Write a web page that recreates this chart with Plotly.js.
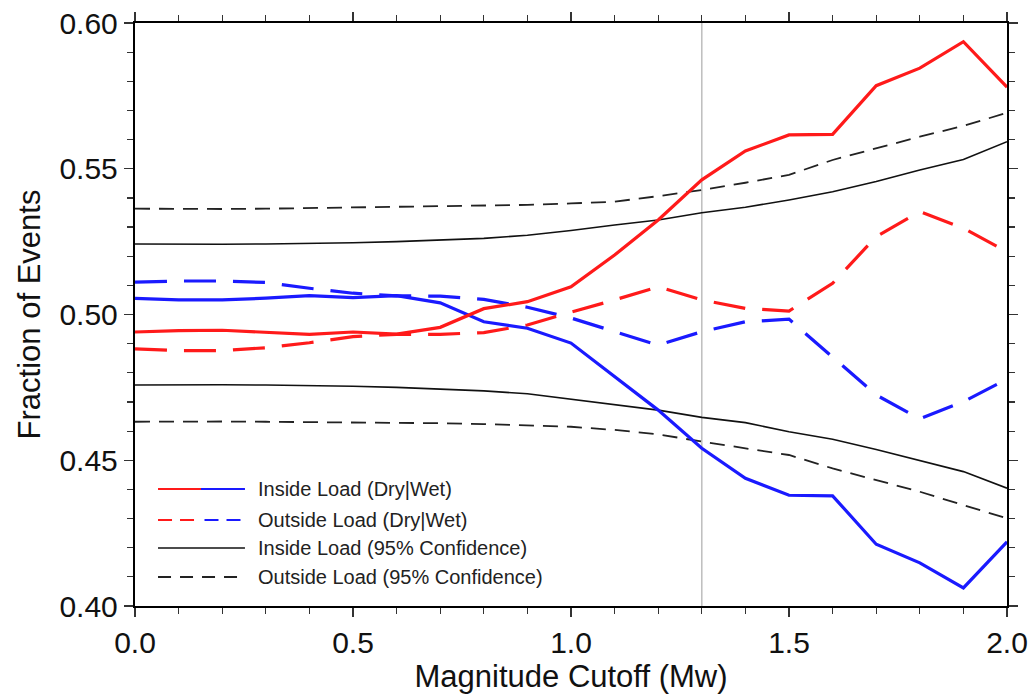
<!DOCTYPE html>
<html>
<head>
<meta charset="utf-8">
<script src="https://cdn.plot.ly/plotly-3.0.1.min.js"></script>
<style>
  html, body { margin: 0; padding: 0; background: #fff; }
  #chart { width: 1034px; height: 696px; }
</style>
</head>
<body>
<div id="chart"></div>
<script>
// Magnitude cutoffs (Mw)
const magnitude = [0.0, 0.1, 0.2, 0.3, 0.4, 0.5, 0.6, 0.7, 0.8, 0.9, 1.0,
                   1.1, 1.2, 1.3, 1.4, 1.5, 1.6, 1.7, 1.8, 1.9, 2.0];

// Fraction of events inside the load region, dry and wet seasons
const insideDry = [0.4940, 0.4945, 0.4946, 0.4940, 0.4932, 0.4940, 0.4933, 0.4956, 0.5020, 0.5044, 0.5095,
                   0.5204, 0.5324, 0.5462, 0.5561, 0.5616, 0.5618, 0.5785, 0.5845, 0.5936, 0.5780];
const insideWet = [0.5055, 0.5050, 0.5050, 0.5056, 0.5065, 0.5058, 0.5065, 0.5040, 0.4975, 0.4953, 0.4902,
                   0.4787, 0.4672, 0.4541, 0.4438, 0.4380, 0.4378, 0.4212, 0.4148, 0.4062, 0.4220];

// Fraction of events outside the load region, dry and wet seasons
const outsideDry = [0.4882, 0.4876, 0.4876, 0.4886, 0.4903, 0.4924, 0.4932, 0.4932, 0.4938, 0.4964, 0.5008,
                    0.5050, 0.5095, 0.5050, 0.5021, 0.5012, 0.5107, 0.5267, 0.5353, 0.5296, 0.5215];
const outsideWet = [0.5111, 0.5115, 0.5115, 0.5110, 0.5090, 0.5073, 0.5064, 0.5063, 0.5052, 0.5025, 0.4988,
                    0.4941, 0.4895, 0.4941, 0.4975, 0.4984, 0.4855, 0.4724, 0.4642, 0.4701, 0.4778];

// 95% confidence bounds
const insideUpper = [0.5242, 0.5241, 0.5241, 0.5242, 0.5243, 0.5246, 0.5250, 0.5255, 0.5261, 0.5272, 0.5288,
                     0.5307, 0.5324, 0.5349, 0.5368, 0.5393, 0.5421, 0.5456, 0.5496, 0.5532, 0.5593];
const insideLower = [0.4758, 0.4759, 0.4759, 0.4758, 0.4757, 0.4754, 0.4750, 0.4745, 0.4738, 0.4728, 0.4710,
                     0.4690, 0.4672, 0.4647, 0.4629, 0.4598, 0.4572, 0.4537, 0.4498, 0.4461, 0.4404];
const outsideUpper = [0.5363, 0.5362, 0.5362, 0.5363, 0.5365, 0.5366, 0.5368, 0.5370, 0.5372, 0.5376, 0.5381,
                      0.5387, 0.5406, 0.5427, 0.5452, 0.5479, 0.5530, 0.5570, 0.5610, 0.5647, 0.5692];
const outsideLower = [0.4632, 0.4633, 0.4633, 0.4632, 0.4631, 0.4630, 0.4629, 0.4627, 0.4624, 0.4620, 0.4615,
                      0.4604, 0.4589, 0.4564, 0.4541, 0.4518, 0.4472, 0.4432, 0.4392, 0.4346, 0.4301];

// Reference cutoff marked with a vertical line
const cutoffLine = 1.3;

// Legend rows
const legendLabels = ['Inside Load (Dry|Wet)', 'Outside Load (Dry|Wet)',
                      'Inside Load (95% Confidence)', 'Outside Load (95% Confidence)'];

const RED = '#ff1a1a';
const BLUE = '#1a1aff';
const COLOR_DASH = '32px,17px';
const BLACK_DASH = '15px,9px';

function curve(y, color, width, dash) {
  return {
    x: magnitude, y: y, type: 'scatter', mode: 'lines',
    line: { color: color, width: width, dash: dash },
    showlegend: false, hoverinfo: 'skip'
  };
}

const traces = [
  curve(insideUpper, '#111', 1.6, 'solid'),
  curve(insideLower, '#111', 1.6, 'solid'),
  curve(outsideUpper, '#222', 1.8, BLACK_DASH),
  curve(outsideLower, '#222', 1.8, BLACK_DASH),
  curve(outsideWet, BLUE, 3.2, COLOR_DASH),
  curve(outsideDry, RED, 3.2, COLOR_DASH),
  curve(insideWet, BLUE, 3.2, 'solid'),
  curve(insideDry, RED, 3.2, 'solid')
];

// Hand-built legend: split red|blue sample lines with labels
const legendRowsY = [0.2007, 0.1475, 0.0995, 0.0497];
const lx0 = 0.0264, lxMid = 0.0757, lx1 = 0.1261, textX = 0.139;
const shapes = [
  { type: 'line', xref: 'x', yref: 'paper', x0: cutoffLine, x1: cutoffLine, y0: 0, y1: 1,
    line: { color: '#bdbdbd', width: 1.5 }, layer: 'below' }
];
function seg(x0, x1, y, color, width, dash) {
  shapes.push({ type: 'line', xref: 'paper', yref: 'paper', x0: x0, x1: x1, y0: y, y1: y,
                line: { color: color, width: width, dash: dash } });
}
seg(lx0, lxMid, legendRowsY[0], RED, 2, 'solid');
seg(lxMid, lx1, legendRowsY[0], BLUE, 2, 'solid');
seg(lx0, lxMid, legendRowsY[1], RED, 2, '14px,8px');
seg(lxMid + 0.004, lx1, legendRowsY[1], BLUE, 2, '14px,8px');
seg(lx0, lx1, legendRowsY[2], '#111', 1.6, 'solid');
seg(lx0, lx1, legendRowsY[3], '#222', 1.8, '13px,9px');

const annotations = legendLabels.map((t, i) => ({
  xref: 'paper', yref: 'paper', x: textX, y: legendRowsY[i],
  xanchor: 'left', yanchor: 'middle', showarrow: false, text: t,
  font: { family: 'Liberation Sans, Arial, sans-serif', size: 20, color: '#222' }
}));

const axisCommon = {
  showgrid: false, zeroline: false, showline: true, linecolor: '#000', linewidth: 2.2,
  mirror: 'allticks', ticks: 'outside', ticklen: 9, tickwidth: 1.4, tickcolor: '#333',
  tickfont: { family: 'Liberation Sans, Arial, sans-serif', size: 30, color: '#111' }
};

const layout = {
  width: 1034, height: 696,
  margin: { l: 135, r: 27, t: 23, b: 90 },
  paper_bgcolor: '#fff', plot_bgcolor: '#fff',
  xaxis: Object.assign({}, axisCommon, {
    range: [0, 2], tickvals: [0, 0.5, 1, 1.5, 2], ticktext: ['0.0', '0.5', '1.0', '1.5', '2.0'],
    minor: { dtick: 0.1, ticks: 'outside', ticklen: 6, tickwidth: 1.2, tickcolor: '#333' },
    title: { text: 'Magnitude Cutoff (Mw)', standoff: 4,
             font: { family: 'Liberation Sans, Arial, sans-serif', size: 31, color: '#111' } }
  }),
  yaxis: Object.assign({}, axisCommon, {
    range: [0.4, 0.6], tickvals: [0.40, 0.45, 0.50, 0.55, 0.60],
    ticktext: ['0.40', '0.45', '0.50', '0.55', '0.60'],
    minor: { dtick: 0.01, ticks: 'outside', ticklen: 6, tickwidth: 1.2, tickcolor: '#333' },
    title: { text: 'Fraction of Events', standoff: 10,
             font: { family: 'Liberation Sans, Arial, sans-serif', size: 31, color: '#111' } }
  }),
  shapes: shapes,
  annotations: annotations
};

Plotly.newPlot('chart', traces, layout, { displayModeBar: false, staticPlot: true });
</script>
</body>
</html>
